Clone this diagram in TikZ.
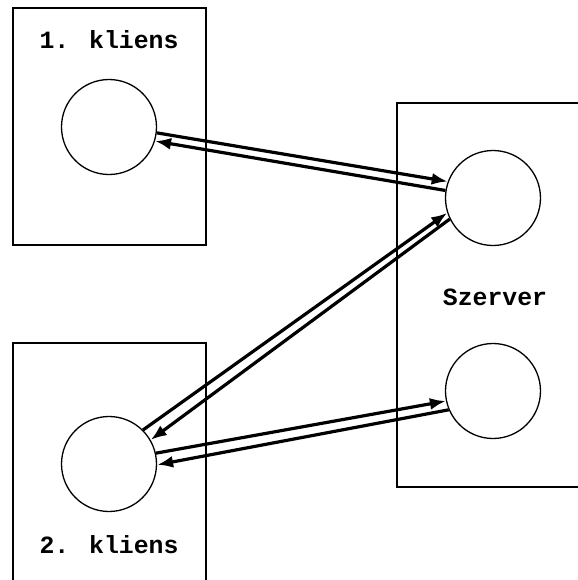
\documentclass[tikz,border=0pt]{standalone}
\usepackage{fontspec}
\newfontfamily\courfont{Liberation Mono}
\usetikzlibrary{arrows.meta}

\begin{document}
\begin{tikzpicture}[x=0.5pt,y=-0.5pt,
  proc/.style={draw, circle, line width=0.65pt, minimum size=47.5pt, inner sep=0pt},
  frame/.style={line width=0.65pt},
  msg/.style={line width=1.6pt, -{Latex[length=8pt,width=6pt]}},
  caption/.style={font=\courfont\bfseries\fontsize{12.4}{14}\selectfont, inner sep=0pt}]
  \useasboundingbox (0,0) rectangle (578,580);
  % boxes
  \draw[frame] (13,8) rectangle (206,245);                           % 1. kliens
  \draw[frame] (13,585) -- (13,343) -- (206,343) -- (206,585);       % 2. kliens
  \draw[frame] (585,103) -- (397,103) -- (397,487) -- (585,487);     % szerver
  % processes
  \node[proc] (k1) at (109,127) {};
  \node[proc] (k2) at (109,464) {};
  \node[proc] (s1) at (493,198) {};
  \node[proc] (s2) at (493,391) {};
  \node[caption] (k1name) at (109,40) {1. kliens};
  \node[caption] (k2name) at (109,545) {2. kliens};
  \node[caption] (sname) at (495,297) {Szerver};
  % messages
  \draw[msg] (k1.-7) -- (s1.160);
  \draw[msg] (s1.171) -- (k1.-17);
  \draw[msg] (k2.45) -- (s1.198);
  \draw[msg] (s1.206) -- (k2.30);
  \draw[msg] (k2.13) -- (s2.192);
  \draw[msg] (s2.203) -- (k2.-1);
\end{tikzpicture}
\end{document}
